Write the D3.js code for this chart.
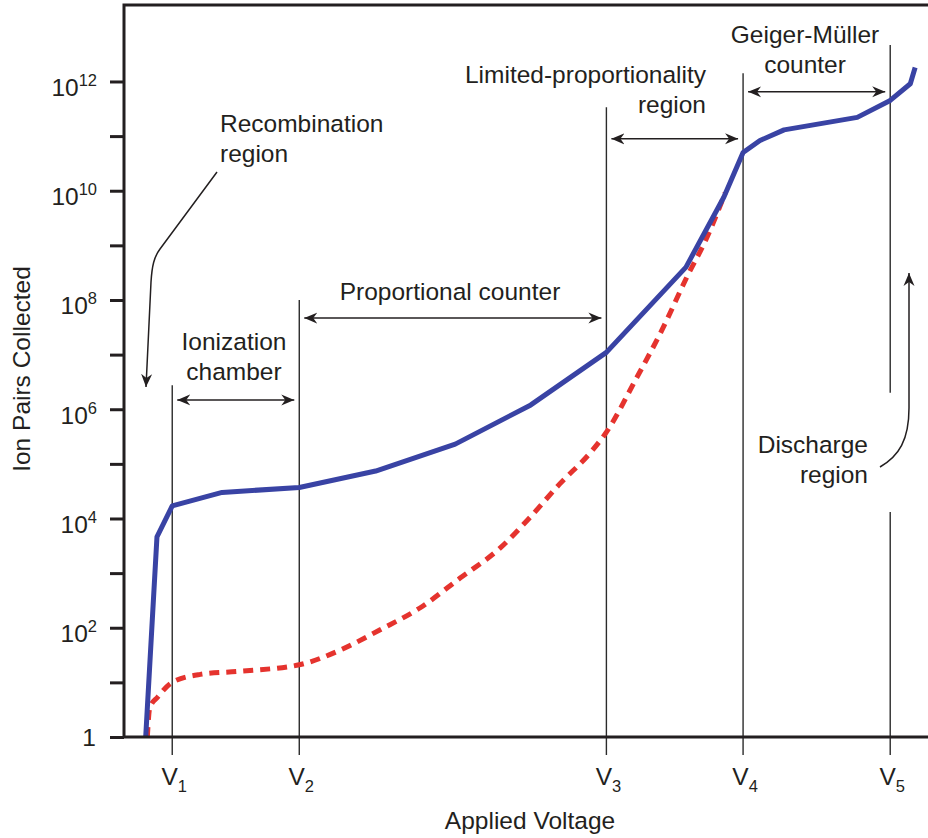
<!DOCTYPE html>
<html>
<head>
<meta charset="utf-8">
<script src="https://cdn.jsdelivr.net/npm/d3@7/dist/d3.min.js"></script>
<style>
  body { margin: 0; background: #fff; }
  svg text { font-family: "Liberation Sans", Arial, Helvetica, sans-serif; fill: #231f20; }
</style>
</head>
<body>
<svg id="chart" width="928" height="838"></svg>
<script>
// ---- Data -------------------------------------------------------------
// Applied voltage in arbitrary units (0..100 across the frame)
const regionVoltages = [6.0, 21.8, 60.0, 77.0, 95.3];
const regionLabels = ["1", "2", "3", "4", "5"];

// Solid curve: ion pairs collected (large primary ionization)
const highVoltage = [2.7, 4.1, 6.0, 12.2, 21.8, 31.3, 41.2, 50.6, 60.0, 69.9, 74.6, 77.0, 79.1, 82.1, 91.2, 95.3, 97.8, 98.4];
const highPairs   = [1, 4.6e3, 1.7e4, 3.0e4, 3.7e4, 7.4e4, 2.3e5, 1.2e6, 1.1e7, 4.0e8, 7.6e9, 5.0e10, 8.3e10, 1.3e11, 2.2e11, 4.5e11, 9.1e11, 1.8e12];

// Dashed curve: ion pairs collected (small primary ionization)
const lowVoltage = [2.9, 3.2, 4.2, 6.0, 9.5, 14.4, 21.8, 26.9, 31.8, 36.8, 41.8, 46.8, 50.5, 54.2, 58.0, 60.0, 63.6, 66.9, 70.1, 72.3, 74.8];
const lowPairs   = [1, 3.4, 5.4, 10, 14, 16, 21, 39, 91, 230, 810, 2.9e3, 1.05e4, 4.3e4, 1.6e5, 3.8e5, 3.4e6, 2.8e7, 2.8e8, 1.2e9, 9.3e9];

// Y axis decades (tick at every power of ten, label at even powers)
const yDecades = d3.range(0, 13);
const yLabelDecades = [0, 2, 4, 6, 8, 10, 12];

// ---- Layout -----------------------------------------------------------
const svg = d3.select("#chart");
const plotLeft = 124, plotRight = 928, plotTop = 5, plotBottom = 737;
const ink = "#231f20";
const fontSize = 24.5;

const x = d3.scaleLinear().domain([0, 100]).range([plotLeft, plotRight]);
const y = d3.scaleLog().domain([1, Math.pow(10, 13.4)]).range([plotBottom, plotTop]);

// marker for the annotation arrows
const defs = svg.append("defs");
defs.append("marker")
  .attr("id", "head")
  .attr("viewBox", "-13 -6 14 12")
  .attr("refX", 0).attr("refY", 0)
  .attr("markerUnits", "userSpaceOnUse")
  .attr("markerWidth", 14).attr("markerHeight", 12)
  .attr("orient", "auto-start-reverse")
  .append("path")
  .attr("d", "M0,0 L-13,-5.5 L-9,0 L-13,5.5 Z")
  .attr("fill", ink);

// ---- Region boundary lines (V1..V5) -----------------------------------
const lineTops = [6.44, 8.0, 11.53, 12.15, 12.67]; // decade where each line begins
const vLines = svg.append("g").attr("stroke", "#2b2b2b").attr("stroke-width", 1.4);
regionVoltages.forEach((v, i) => {
  const px = x(v);
  if (i === 4) {
    // the V5 line is broken to leave room for the discharge label
    vLines.append("line").attr("x1", px).attr("x2", px)
      .attr("y1", y(Math.pow(10, lineTops[i]))).attr("y2", y(Math.pow(10, 6.3)));
    vLines.append("line").attr("x1", px).attr("x2", px)
      .attr("y1", y(Math.pow(10, 4.12))).attr("y2", plotBottom + 18);
  } else {
    vLines.append("line").attr("x1", px).attr("x2", px)
      .attr("y1", y(Math.pow(10, lineTops[i]))).attr("y2", plotBottom + 18);
  }
});

// ---- Curves -----------------------------------------------------------
const lowLine = d3.line()
  .x((d, i) => x(lowVoltage[i]))
  .y(d => y(d))
  .curve(d3.curveMonotoneX);
svg.append("path")
  .attr("d", lowLine(lowPairs))
  .attr("fill", "none")
  .attr("stroke", "#e5332e")
  .attr("stroke-width", 5)
  .attr("stroke-dasharray", "10,7");

const highLine = d3.line()
  .x((d, i) => x(highVoltage[i]))
  .y(d => y(d))
  .curve(d3.curveLinear);
svg.append("path")
  .attr("d", highLine(highPairs))
  .attr("fill", "none")
  .attr("stroke", "#3943a4")
  .attr("stroke-width", 5)
  .attr("stroke-linejoin", "round");

// ---- Frame and axes ---------------------------------------------------
const yAxis = d3.axisLeft(y)
  .tickValues(yDecades.map(d => Math.pow(10, d)))
  .tickSize(14)
  .tickFormat("");
const gy = svg.append("g").attr("transform", `translate(${plotLeft},0)`).call(yAxis);
gy.select(".domain").remove();
gy.selectAll(".tick line").attr("stroke", ink).attr("stroke-width", 3);

svg.append("path")
  .attr("d", `M${plotRight + 2},${plotTop} H${plotLeft} V${plotBottom} H${plotRight + 2}`)
  .attr("fill", "none").attr("stroke", ink).attr("stroke-width", 3);

// y tick labels: "1", then 10 with a superscript exponent
const yLab = svg.append("g").attr("font-size", fontSize).attr("text-anchor", "end");
yLabelDecades.forEach(d => {
  const py = y(Math.pow(10, d));
  if (d === 0) {
    yLab.append("text").attr("x", 96).attr("y", py + 8.5).text("1");
  } else {
    const t = yLab.append("text").attr("x", 97).attr("y", py + 14.5);
    t.append("tspan").text("10");
    t.append("tspan").attr("font-size", 16.5).attr("dy", -10).text(String(d));
  }
});

// x tick labels: V with subscript index
const xLab = svg.append("g").attr("font-size", fontSize).attr("text-anchor", "middle");
regionVoltages.forEach((v, i) => {
  const t = xLab.append("text").attr("x", x(v) + 2).attr("y", 785);
  t.append("tspan").text("V");
  t.append("tspan").attr("font-size", 16.5).attr("dy", 7).text(regionLabels[i]);
});

// axis titles
svg.append("text")
  .attr("x", 530).attr("y", 829)
  .attr("text-anchor", "middle").attr("font-size", fontSize)
  .text("Applied Voltage");
svg.append("text")
  .attr("transform", "translate(29.5,369) rotate(-90)")
  .attr("text-anchor", "middle").attr("font-size", fontSize)
  .text("Ion Pairs Collected");

// ---- Region annotations -----------------------------------------------
const arrows = svg.append("g").attr("stroke", ink).attr("stroke-width", 1.5).attr("fill", "none");
// double-headed spans between adjacent boundaries, at given decade heights
const spanDecades = [6.17, 7.67, 10.95, 11.81];
spanDecades.forEach((d, i) => {
  const py = y(Math.pow(10, d));
  arrows.append("line")
    .attr("x1", x(regionVoltages[i]) + 5).attr("x2", x(regionVoltages[i + 1]) - 5)
    .attr("y1", py).attr("y2", py)
    .attr("marker-start", "url(#head)")
    .attr("marker-end", "url(#head)");
});

// recombination leader
arrows.append("path")
  .attr("d", "M217,172 L160,249 C154,257 152,266 151,282 L146,387")
  .attr("marker-end", "url(#head)");
// discharge leader
arrows.append("path")
  .attr("d", "M880,467 C899,456 909,440 909,408 L909,273")
  .attr("marker-end", "url(#head)");

const notes = [
  { lines: ["Recombination", "region"], x: 220, y: 132, anchor: "start" },
  { lines: ["Ionization", "chamber"], x: 234, y: 350, anchor: "middle" },
  { lines: ["Proportional counter"], x: 450, y: 300, anchor: "middle" },
  { lines: ["Limited-proportionality", "region"], x: 706, y: 83, anchor: "end" },
  { lines: ["Geiger-Müller", "counter"], x: 805, y: 43, anchor: "middle" },
  { lines: ["Discharge", "region"], x: 868, y: 453, anchor: "end" }
];
const noteG = svg.append("g").attr("font-size", fontSize);
notes.forEach(n => {
  const t = noteG.append("text").attr("text-anchor", n.anchor);
  n.lines.forEach((s, k) => {
    t.append("tspan").attr("x", n.x).attr("y", n.y + k * 29.5).text(s);
  });
});
</script>
</body>
</html>
